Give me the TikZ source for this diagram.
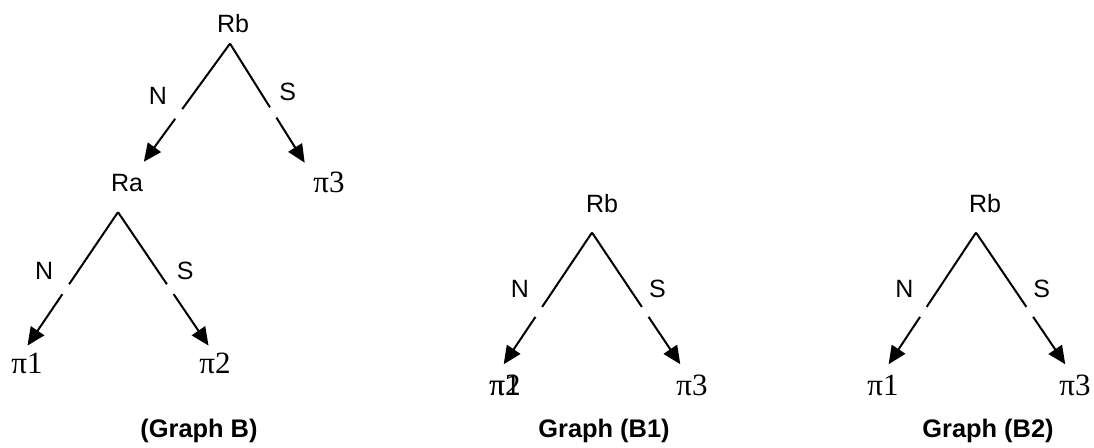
\documentclass[tikz,border=0pt]{standalone}
\usepackage{fontspec}
\setmainfont{Liberation Serif}
\setsansfont{Liberation Sans}
\usetikzlibrary{arrows.meta}

\tikzset{
  lab/.style={font=\sffamily\fontsize{12.5}{14}\selectfont, inner sep=0pt},
  pay/.style={font=\fontsize{15.5}{17}\selectfont, inner sep=0pt},
  gname/.style={font=\sffamily\bfseries\fontsize{12.7}{14}\selectfont, inner sep=0pt},
  edge/.style={line width=1pt, -{Triangle[length=9pt,width=8pt]}, shorten >=6pt},
  gap/.style={pos=.57, circle, fill=white, minimum size=6pt, inner sep=0pt},
  nlab/.style={lab, pos=.46, left=12pt},
  slab/.style={lab, pos=.46, right=9pt}
}

\begin{document}
\begin{tikzpicture}[x=0.5pt, y=-0.5pt]
          \useasboundingbox (0,0) rectangle (1094,447);

          \node[lab] (RbB) at (233,24) {Rb};
          \node[lab] (RaB) at (127,183) {Ra};
          \node[pay] (p3B) at (329,182) {π3};
          \node[pay] (p1B) at (27,363) {π1};
          \node[pay] (p2B) at (215,363) {π2};
          \node[gname] (capB) at (199,431) {(Graph B)};

          \draw[edge, shorten >=7.5pt] ([xshift=-1.5pt,yshift=-5pt]RbB.south) -- node[gap, pos=.54]{} node[nlab, pos=.4]{N} ([xshift=4pt]RaB.north);
          \draw[edge, shorten >=5pt] ([xshift=-1.5pt,yshift=-5pt]RbB.south) -- node[gap, pos=.54]{} node[slab, pos=.38]{S} ([xshift=-9.5pt]p3B.north);
          \draw[edge, shorten >=4pt] ([xshift=-4.5pt,yshift=-10pt]RaB.south) -- node[gap, pos=.55]{} node[nlab, pos=.42]{N} ([xshift=-2pt]p1B.north);
          \draw[edge, shorten >=4pt] ([xshift=-4.5pt,yshift=-10pt]RaB.south) -- node[gap, pos=.55]{} node[slab, pos=.42]{S} ([xshift=-1pt]p2B.north);

          \node[lab] (RbB1) at (602,204) {Rb};
          \node[pay] (p1B1) at (505,385) {π1};
          \node[pay] (p2B1) at (505,385) {π2};
          \node[pay] (p3B1) at (692,385) {π3};
          \node[gname] (capB1) at (604,431) {Graph (B1)};

          \draw[edge] ([xshift=-5pt,yshift=-9.5pt]RbB1.south) -- node[gap, pos=.56]{} node[nlab, pos=.4]{N} ([xshift=-4pt]p1B1.north);
          \draw[edge] ([xshift=-5pt,yshift=-9.5pt]RbB1.south) -- node[gap, pos=.56]{} node[slab, pos=.4]{S} ([xshift=-2.5pt]p3B1.north);

          \node[lab] (RbB2) at (985,204) {Rb};
          \node[pay] (p1B2) at (883,385) {π1};
          \node[pay] (p3B2) at (1075,385) {π3};
          \node[gname] (capB2) at (988,431) {Graph (B2)};

          \draw[edge] ([xshift=-4.5pt,yshift=-9.5pt]RbB2.south) -- node[gap, pos=.56]{} node[nlab, pos=.4]{N} ([xshift=-0.5pt]p1B2.north);
          \draw[edge] ([xshift=-4.5pt,yshift=-9.5pt]RbB2.south) -- node[gap, pos=.56]{} node[slab, pos=.4]{S} ([xshift=-1.5pt]p3B2.north);

        \end{tikzpicture}
\end{document}
